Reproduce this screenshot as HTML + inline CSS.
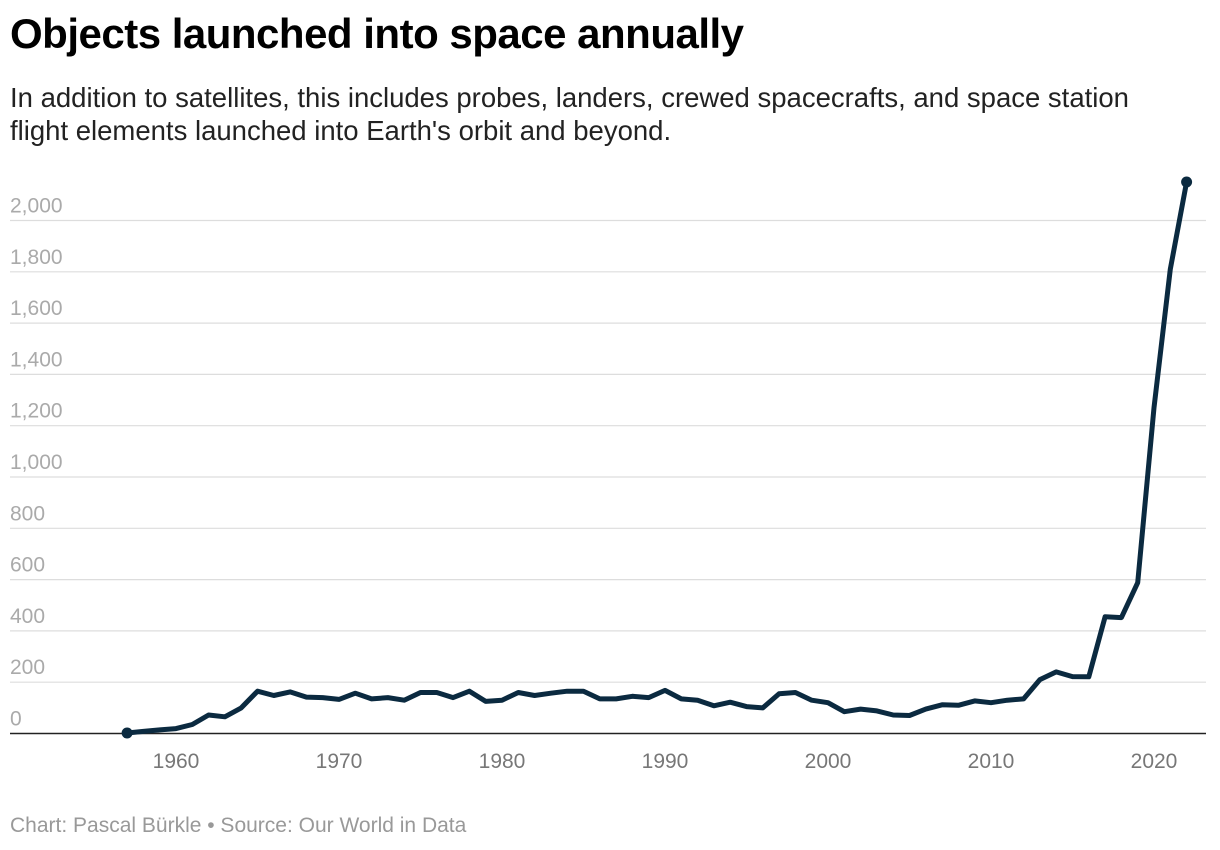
<!DOCTYPE html>
<html><head><meta charset="utf-8"><style>
body{margin:0;width:1220px;height:850px;background:#fff;font-family:"Liberation Sans",sans-serif;overflow:hidden;position:relative}
#title{position:absolute;left:10px;top:10px;font-size:42px;font-weight:bold;color:#000;letter-spacing:-0.5px}
#sub{position:absolute;left:10px;top:81px;font-size:27.5px;line-height:33px;color:#222;width:1170px}
#foot{position:absolute;left:10px;top:814px;font-size:21px;color:#999}
svg{position:absolute;left:0;top:0}
</style></head><body>
<div id="title">Objects launched into space annually</div>
<div id="sub">In addition to satellites, this includes probes, landers, crewed spacecrafts, and space station flight elements launched into Earth's orbit and beyond.</div>
<svg id="chart" width="1220" height="850"></svg>
<div id="foot">Chart: Pascal Bürkle • Source: Our World in Data</div>
<script>
const years=[1957,1958,1959,1960,1961,1962,1963,1964,1965,1966,1967,1968,1969,1970,1971,1972,1973,1974,1975,1976,1977,1978,1979,1980,1981,1982,1983,1984,1985,1986,1987,1988,1989,1990,1991,1992,1993,1994,1995,1996,1997,1998,1999,2000,2001,2002,2003,2004,2005,2006,2007,2008,2009,2010,2011,2012,2013,2014,2015,2016,2017,2018,2019,2020,2021,2022];
const values=[2,8,14,19,35,72,65,100,165,148,162,142,140,133,157,135,140,130,160,160,140,165,125,130,160,148,157,165,165,135,135,145,140,168,135,130,108,122,105,100,155,160,130,120,85,95,88,72,70,95,112,110,127,120,130,135,210,240,222,221,455,452,588,1270,1810,2150];
const yTicks=[0,200,400,600,800,1000,1200,1400,1600,1800,2000];
const xTicks=[1960,1970,1980,1990,2000,2010,2020];
const NS="http://www.w3.org/2000/svg";
const svg=document.getElementById('chart');
const X=y=>176+(y-1960)*16.3;
const Y=v=>733.5-v*0.2565;
function mk(t,a){const e=document.createElementNS(NS,t);for(const k in a)e.setAttribute(k,a[k]);svg.appendChild(e);return e;}
yTicks.forEach(v=>{
  if(v>0){const g=mk('line',{x1:10,x2:1206,y1:Y(v),y2:Y(v),stroke:'#ddd','stroke-width':1.2});
  
  }
  const t=mk('text',{x:10,y:Y(v)-8,'font-size':21,fill:'#aaa','font-family':'Liberation Sans, sans-serif'});
  t.textContent=v.toLocaleString('en-US');
  
  
});
const ax=mk('line',{x1:10,x2:1206,y1:733.5,y2:733.5,stroke:'#222','stroke-width':1.5});


xTicks.forEach(y=>{
  const t=mk('text',{x:X(y),y:768,'font-size':21,fill:'#777','text-anchor':'middle','font-family':'Liberation Sans, sans-serif'});
  t.textContent=y;
  
  
});
const d=years.map((y,i)=>(i?'L':'M')+X(y).toFixed(1)+','+Y(values[i]).toFixed(1)).join('');
const p=mk('path',{d:d,fill:'none',stroke:'#0b2a40','stroke-width':5,'stroke-linejoin':'round'});


[0,years.length-1].forEach(i=>{
  const c=mk('circle',{cx:X(years[i]),cy:Y(values[i]),r:5.5,fill:'#0b2a40'});
  
  
});
</script>
</body></html>
